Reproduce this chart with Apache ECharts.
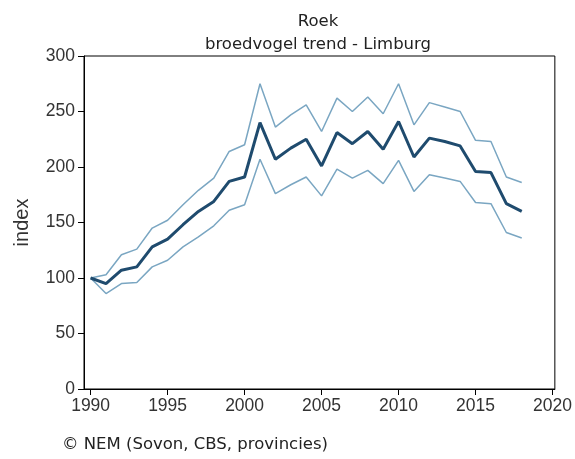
<!DOCTYPE html>
<html>
<head>
<meta charset="utf-8">
<script src="https://cdn.jsdelivr.net/npm/echarts@6/dist/echarts.min.js"></script>
<style>
  html, body { margin: 0; padding: 0; background: #fff; }
  #chart { width: 575px; height: 459px; }
</style>
</head>
<body>
<div id="chart"></div>
<script>
// Breeding bird trend index for the rook (Roek) in Limburg, 1990 = 100
const years = [1990, 1991, 1992, 1993, 1994, 1995, 1996, 1997, 1998, 1999,
               2000, 2001, 2002, 2003, 2004, 2005, 2006, 2007, 2008, 2009,
               2010, 2011, 2012, 2013, 2014, 2015, 2016, 2017, 2018];
const trend = [100, 95, 107, 110, 128, 135, 148, 160, 169, 187,
               191, 240, 207, 217, 225, 201, 231, 221, 232, 216,
               241, 209, 226, 223, 219, 196, 195, 167, 160];
const upper = [100, 103, 121, 126, 145, 152, 166, 179, 190, 214,
               220, 275, 236, 247, 256, 232, 262, 250, 263, 248,
               275, 238, 258, 254, 250, 224, 223, 191, 186];
const lower = [100, 86, 95, 96, 110, 116, 128, 137, 147, 161,
               166, 207, 176, 184, 191, 174, 198, 190, 197, 185,
               206, 178, 193, 190, 187, 168, 167, 141, 136];
const yearTicks = [1990, 1995, 2000, 2005, 2010, 2015, 2020];

const pairs = arr => years.map((y, i) => [y, arr[i]]);

const chart = echarts.init(document.getElementById('chart'));
const labelFont = { fontFamily: 'Liberation Sans', fontSize: 17.5, color: '#333' };
const textFont = { fontFamily: 'DejaVu Sans', fontSize: 16.5, fontWeight: 'normal', color: '#222' };

chart.setOption({
  animation: false,
  title: [
    { text: 'Roek', left: 313, top: 8, textAlign: 'center', textStyle: textFont },
    { text: 'broedvogel trend - Limburg', left: 313, top: 31, textAlign: 'center', textStyle: textFont },
    { text: '© NEM (Sovon, CBS, provincies)', left: 57, top: 431, textStyle: textFont }
  ],
  grid: { left: 84, right: 20, top: 56, bottom: 70, show: true, borderColor: '#000', borderWidth: 1, backgroundColor: '#fff' },
  xAxis: {
    type: 'value', min: 1989.57, max: 2020.15,
    axisLine: { lineStyle: { color: '#000', width: 1 } },
    axisTick: { show: true, length: 6, customValues: yearTicks, lineStyle: { color: '#000' } },
    axisLabel: Object.assign({ customValues: yearTicks, margin: 8, formatter: v => String(v) }, labelFont),
    splitLine: { show: false }
  },
  yAxis: {
    type: 'value', min: 0, max: 300, interval: 50,
    name: 'index', nameLocation: 'middle', nameGap: 52,
    nameTextStyle: { fontFamily: 'Liberation Sans', fontSize: 20, color: '#333' },
    axisLine: { show: true, lineStyle: { color: '#000', width: 1 } },
    axisTick: { show: true, length: 6, lineStyle: { color: '#000' } },
    axisLabel: Object.assign({ margin: 9 }, labelFont),
    splitLine: { show: false }
  },
  series: [
    { name: 'bovengrens', type: 'line', data: pairs(upper), symbol: 'none',
      lineStyle: { color: '#7aa6c2', width: 1.5 } },
    { name: 'ondergrens', type: 'line', data: pairs(lower), symbol: 'none',
      lineStyle: { color: '#7aa6c2', width: 1.5 } },
    { name: 'trend', type: 'line', data: pairs(trend), symbol: 'none',
      lineStyle: { color: '#1f4b6e', width: 3 } }
  ]
});
</script>
</body>
</html>
